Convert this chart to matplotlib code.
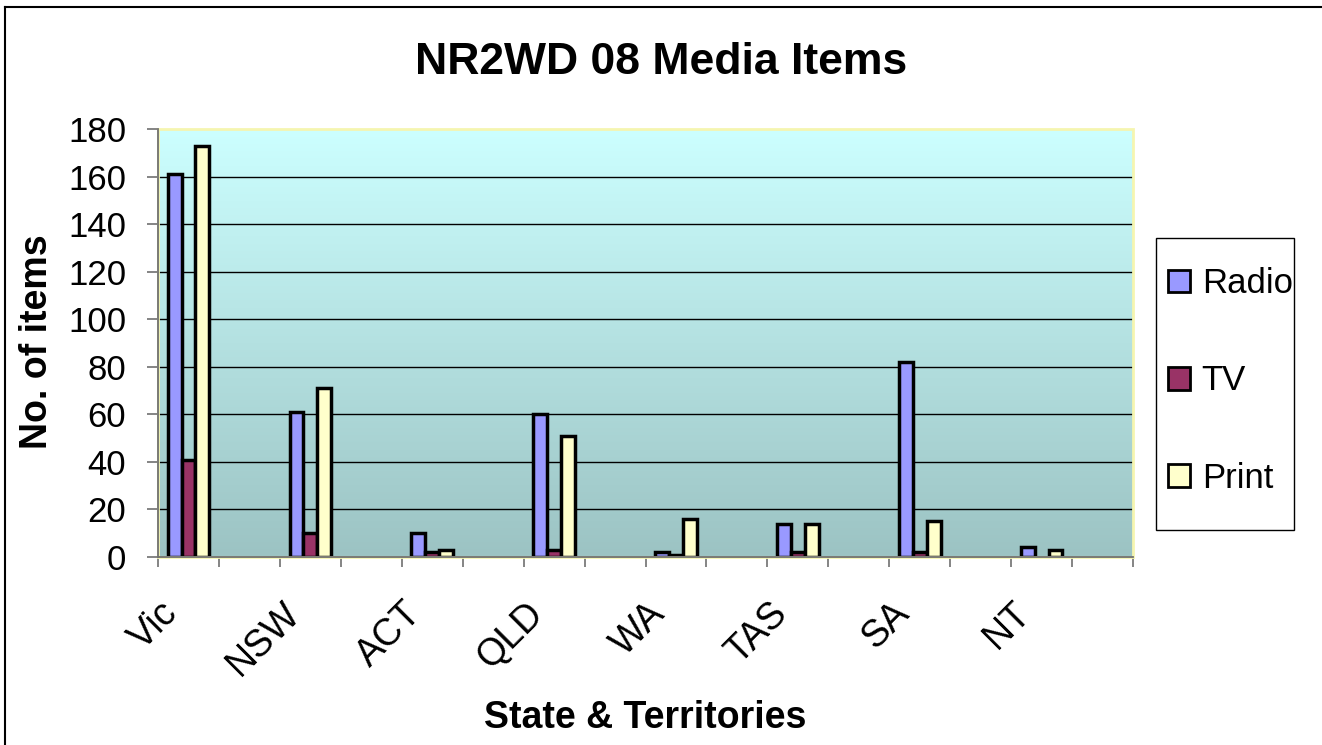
import numpy as np
import matplotlib
matplotlib.use("Agg")
import matplotlib.pyplot as plt
from matplotlib.colors import LinearSegmentedColormap
from matplotlib.patches import Patch, Rectangle
from matplotlib.lines import Line2D

plt.rcParams['font.family'] = ['Liberation Sans', 'DejaVu Sans']

# ---- data ----
states = ['Vic', 'NSW', 'ACT', 'QLD', 'WA', 'TAS', 'SA', 'NT']
radio = [161, 61, 10, 60, 2, 14, 82, 4]
tv = [41, 10, 2, 3, 1, 2, 2, 0]
print_items = [173, 71, 3, 51, 16, 14, 15, 3]
series_names = ['Radio', 'TV', 'Print']
series_colors = ['#9999FF', '#993366', '#FFFFCC']
y_ticks = list(range(0, 181, 20))

W, H = 1322, 745
fig = plt.figure(figsize=(W / 100, H / 100), dpi=100)
fig.patch.set_facecolor('white')

L, R, T, B = 158, 1133, 129, 557
ax = fig.add_axes([L / W, 1 - B / H, (R - L) / W, (B - T) / H])

n_slots = 2 * len(states)  # each state followed by an empty slot
ax.set_xlim(0, n_slots)
ax.set_ylim(0, 180)

# gradient background
cmap = LinearSegmentedColormap.from_list('bg', ['#9CC3C3', '#CCFFFF'])
ax.imshow(np.linspace(0, 1, 256).reshape(-1, 1), extent=[0, n_slots, 0, 180],
          aspect='auto', cmap=cmap, origin='lower', zorder=0)
ax.patch.set_visible(False)

# gridlines
for yv in y_ticks[1:-1]:
    ax.axhline(yv, color='black', lw=1.0, zorder=1)

# bars
centers = np.arange(len(states)) * 2 + 0.5
bw = 0.228
for k, (vals, col) in enumerate(zip([radio, tv, print_items], series_colors)):
    xs = centers + (k - 1) * bw
    for x, v in zip(xs, vals):
        if v > 0:
            ax.bar(x, v, width=bw, color=col, edgecolor='black', linewidth=2.5, zorder=3)

# plot area border (light yellow)
ax.add_patch(Rectangle((0, 0), 1, 1, transform=ax.transAxes, fill=False,
                       edgecolor='#F5F5B0', lw=2.0, zorder=4, clip_on=False))
for s in ['top', 'right']:
    ax.spines[s].set_visible(False)
for s in ['left', 'bottom']:
    ax.spines[s].set_color('#707070')
    ax.spines[s].set_linewidth(1.3)
    ax.spines[s].set_zorder(5)

ax.set_yticks(y_ticks)
ax.set_yticklabels([str(v) for v in y_ticks], fontsize=25)
ax.tick_params(axis='y', direction='out', length=8, width=1.2, color='#707070', pad=15)

ax.set_xticks(np.arange(0, n_slots + 1))
ax.set_xticklabels([])
ax.tick_params(axis='x', direction='out', length=7.5, width=1.2, color='#707070')

for c, name in zip(centers, states):
    ax.annotate(name, xy=(c, 0), xycoords=('data', 'axes fraction'),
                xytext=(-16 * 0.72, -51 * 0.72), textcoords='offset points',
                rotation=45, ha='right', va='center', rotation_mode='anchor',
                fontsize=27, annotation_clip=False)

fig.text(0.5, 1 - 62 / H, 'NR2WD 08 Media Items', ha='center', va='center',
         fontsize=32, fontweight='bold')
fig.text(37 / W, 1 - 342 / H, 'No. of items', rotation=90, ha='center', va='center',
         fontsize=27, fontweight='bold')
fig.text((L + R) / 2 / W, 1 - 718 / H, 'State & Territories', ha='center', va='center',
         fontsize=27, fontweight='bold')

# legend frame
fig.add_artist(Rectangle((1156 / W, 1 - 530 / H), (1294 - 1156) / W, (530 - 238) / H,
                         transform=fig.transFigure, facecolor='white',
                         edgecolor='black', lw=1.0))
handles = [Patch(facecolor=c, edgecolor='black', linewidth=2) for c in series_colors]
leg = fig.legend(handles, series_names, loc='center left',
                 bbox_to_anchor=(1168 / W, 1 - 381 / H), fontsize=25,
                 frameon=False, handlelength=0.63, handleheight=0.63,
                 handletextpad=0.34, labelspacing=1.85, borderpad=0,
                 borderaxespad=0)

# outer chart border (top and left visible)
fig.add_artist(Line2D([5 / W, 5 / W], [0, 1 - 7 / H], transform=fig.transFigure,
                      color='black', lw=1.5))
fig.add_artist(Line2D([5 / W, 1], [1 - 7 / H, 1 - 7 / H], transform=fig.transFigure,
                      color='black', lw=1.5))

fig.savefig('out.png', dpi=100)
